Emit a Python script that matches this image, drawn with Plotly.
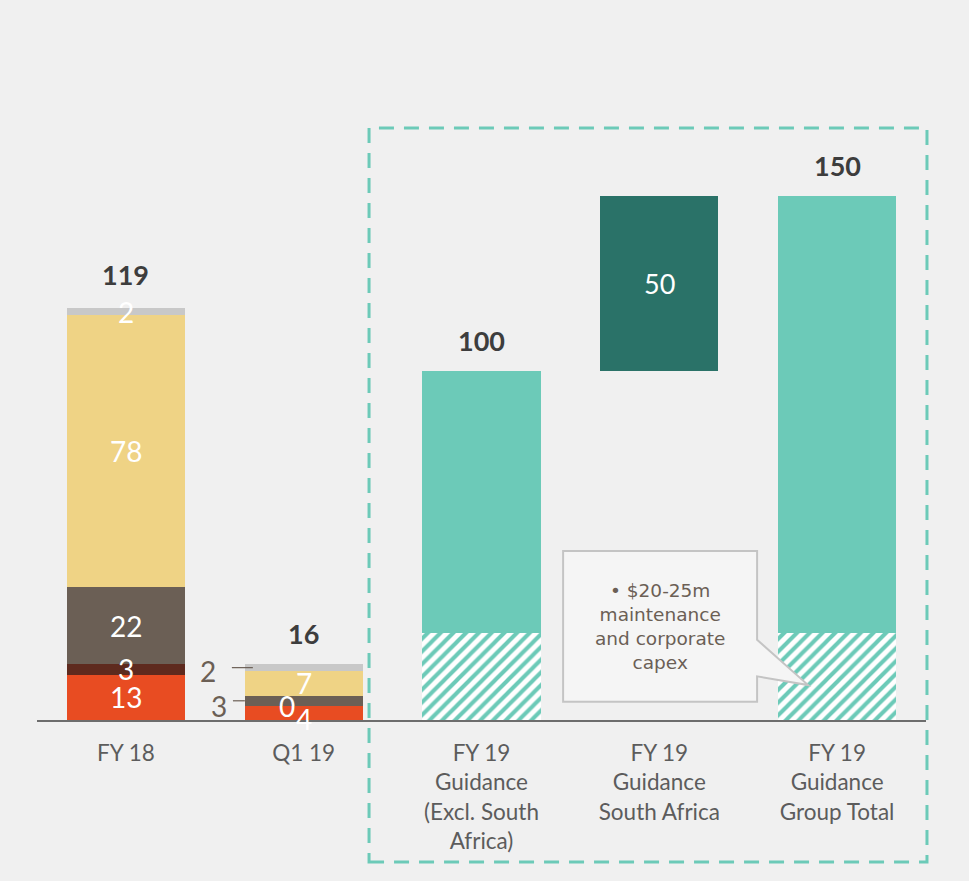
import plotly.graph_objects as go

# ---- data -------------------------------------------------------------
categories = ["FY 18", "Q1 19",
              "FY 19<br>Guidance<br>(Excl. South<br>Africa)",
              "FY 19<br>Guidance<br>South Africa",
              "FY 19<br>Guidance<br>Group Total"]

# historical capex split by segment (FY 18, Q1 19)
seg_names = ["Segment A", "Segment B", "Segment C", "Segment D", "Other"]
seg_colors = ["#e84c22", "#5e2a1e", "#6b5f55", "#efd385", "#c8c8c8"]
seg_fy18 = [13, 3, 22, 78, 2]
seg_q119 = [4, 0, 3, 7, 2]
hist_totals = [119, 16]

# FY 19 guidance
maint_capex = [25, 25]                 # hatched base of excl-SA and group total
guid_excl_sa = 100
guid_sa = 50
guid_total = 150

FONT = "Lato"
CALLOUT_FONT = "DejaVu Sans"
BG = "#f0f0f0"
TEAL = "#6ccab8"
DARK_TEAL = "#2a7268"
LABEL_GREY = "#6b5f55"

fig = go.Figure()

# stacked historical bars
for name, color, a, b in zip(seg_names, seg_colors, seg_fy18, seg_q119):
    fig.add_trace(go.Bar(x=categories[:2], y=[a, b], name=name,
                         marker=dict(color=color, line=dict(width=0))))

# hatched maintenance base
fig.add_trace(go.Bar(
    x=[categories[2], categories[4]], y=maint_capex, name="Maintenance",
    marker=dict(color="white", line=dict(width=0),
                pattern=dict(shape="/", fgcolor=TEAL, bgcolor="white",
                             size=9, solidity=0.45, fillmode="replace"))))
# growth on top of the maintenance base
fig.add_trace(go.Bar(
    x=[categories[2], categories[4]],
    y=[guid_excl_sa - maint_capex[0], guid_total - maint_capex[1]],
    name="Growth", marker=dict(color=TEAL, line=dict(width=0))))
# South Africa floating bar
fig.add_trace(go.Bar(x=[categories[3]], y=[guid_sa], base=[guid_excl_sa],
                     name="South Africa",
                     marker=dict(color=DARK_TEAL, line=dict(width=0))))

annotations = []
shapes = []


def seg_label(xi, yv, text, color="white", size=28, xshift=0, yshift=0):
    annotations.append(dict(x=xi, y=yv, text=text, showarrow=False,
                            xref="x", yref="y", xshift=xshift, yshift=yshift,
                            font=dict(family=FONT, size=size, color=color)))


# FY 18 segment labels, centred in each segment
cum = 0
for v in seg_fy18:
    seg_label(0, cum + v / 2, str(v))
    cum += v

# Q1 19 segment labels
q_mid = []
cum = 0
for v in seg_q119:
    q_mid.append(cum + v / 2)
    cum += v
seg_label(1, q_mid[0], str(seg_q119[0]), yshift=-6)
seg_label(1, q_mid[1], str(seg_q119[1]), xshift=-17)
seg_label(1, q_mid[3], str(seg_q119[3]))

# outside labels with leader lines for the small segments
for idx, line_x0, line_x1, txt_x, ysh in [(4, 0.596, 0.714, 0.52, -3),
                                          (2, 0.602, 0.669, 0.578, -5)]:
    shapes.append(dict(type="line", xref="x", yref="y",
                       x0=line_x0, x1=line_x1, y0=q_mid[idx], y1=q_mid[idx],
                       line=dict(color=LABEL_GREY, width=1.2)))
    annotations.append(dict(x=txt_x, y=q_mid[idx], text=str(seg_q119[idx]),
                            showarrow=False, xanchor="right", yshift=ysh,
                            font=dict(family=FONT, size=28, color=LABEL_GREY)))

# totals above bars
for xi, tot in [(0, hist_totals[0]), (1, hist_totals[1]),
                (2, guid_excl_sa), (4, guid_total)]:
    annotations.append(dict(x=xi, y=tot, text=f"<b>{tot}</b>", showarrow=False,
                            yanchor="bottom", yshift=12,
                            font=dict(family=FONT, size=27, color="#3d3d3d")))
seg_label(3, guid_excl_sa + guid_sa / 2, str(guid_sa), size=27)

# callout box with pointer towards the hatched base
bx0, bx1, by0, by1 = 2.459, 3.55, 5.2, 48.4
shapes.append(dict(
    type="path", xref="x", yref="y",
    path=(f"M {bx0},{by0} L {bx1},{by0} L {bx1},12.5 L 3.837,10 "
          f"L {bx1},23 L {bx1},{by1} L {bx0},{by1} Z"),
    fillcolor="#f5f5f5", line=dict(color="#c4c4c4", width=2)))
annotations.append(dict(
    x=(bx0 + bx1) / 2, y=(by0 + by1) / 2,
    text="• $20-25m<br>maintenance<br>and corporate<br>capex",
    showarrow=False, align="center",
    font=dict(family=CALLOUT_FONT, size=18.5, color=LABEL_GREY)))

# dashed frame around the FY 19 guidance columns
shapes.append(dict(type="rect", xref="paper", yref="paper",
                   x0=0.3735, x1=1.0011, y0=-0.2367, y1=0.9867,
                   line=dict(color=TEAL, width=3, dash="15px,10px"),
                   fillcolor="rgba(0,0,0,0)", layer="above"))

fig.update_layout(
    width=969, height=881,
    margin=dict(l=37, r=43, t=120, b=161),
    paper_bgcolor=BG, plot_bgcolor=BG,
    barmode="stack", bargap=0.336,
    showlegend=False,
    font=dict(family=FONT, color="#5c5c5c"),
    shapes=shapes, annotations=annotations,
    xaxis=dict(type="category", categoryorder="array", categoryarray=categories,
               range=[-0.5, 4.5], showline=True, linecolor="#6d6d6d",
               linewidth=2, ticks="", showgrid=False, zeroline=False,
               tickfont=dict(family=FONT, size=22.5, color="#5c5c5c"),
               ticklabelstandoff=12),
    yaxis=dict(range=[0, 171.9], visible=False, showgrid=False,
               zeroline=False),
)

fig.write_html("out.html")
